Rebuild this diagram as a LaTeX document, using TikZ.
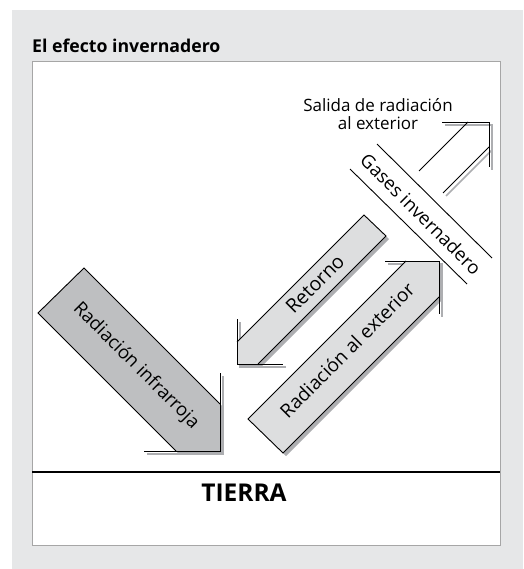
\documentclass[tikz,border=0pt]{standalone}
\usepackage{fontspec}
\setmainfont{Open Sans}
\definecolor{panel}{HTML}{E6E7E8}
\definecolor{darkband}{HTML}{BEBFC1}
\definecolor{lightband}{HTML}{DDDEDF}
\definecolor{shadowgray}{HTML}{ADAEB1}
\tikzset{
  outline/.style={line width=0.9pt},
  shadowline/.style={shadowgray, line width=1.6pt},
  lbl/.style={font=\fontsize{18.5}{22}\selectfont},
}

\begin{document}
\begin{tikzpicture}[x=1pt,y=-1pt]
\useasboundingbox (0,0) rectangle (523,569);
\fill[panel] (12,10) rectangle (523,569);
\filldraw[fill=white,draw=gray!70,line width=0.6pt] (32,61) rectangle (500,545);
\node[anchor=base west,inner sep=0pt,font=\fontsize{17.7}{21}\selectfont\bfseries] (title) at (32,53) {El efecto invernadero};

% shadows
\begin{scope}[shift={(3,3)}]
\fill[shadowgray] (38,313) -- (84,268) -- (220,404) -- (220,451) -- (176,451) -- cycle;
\draw[shadowline] (220,373) -- (220,451) -- (144,451);
\fill[shadowgray] (364,215) -- (386,236) -- (258,364) -- (237,364) -- (237,342) -- cycle;
\draw[shadowline] (237,319) -- (237,364) -- (283,364);
\fill[shadowgray] (248,419) -- (283,453) -- (439,297) -- (439,261) -- (406,261) -- cycle;
\draw[shadowline] (385,261) -- (439,261) -- (439,314);
\draw[shadowline] (443,193) -- (489,147);
\draw[shadowline] (442,122) -- (489,122) -- (489,167);
\end{scope}

% radiacion infrarroja
\fill[darkband] (38,313) -- (84,268) -- (220,404) -- (220,451) -- (176,451) -- cycle;
\draw[outline] (176,451) -- (38,313) -- (84,268) -- (220,404);
\draw[outline] (220,373) -- (220,451) -- (144,451);
% retorno
\fill[lightband] (364,215) -- (386,236) -- (258,364) -- (237,364) -- (237,342) -- cycle;
\draw[outline] (258,364) -- (386,236) -- (364,215) -- (237,342);
\draw[outline] (237,319) -- (237,364) -- (283,364);
% radiacion al exterior
\fill[lightband] (248,419) -- (283,453) -- (439,297) -- (439,261) -- (406,261) -- cycle;
\draw[outline] (406,261) -- (248,419) -- (283,453) -- (439,297);
\draw[outline] (385,261) -- (439,261) -- (439,314);
% salida
\draw[outline] (419,171) -- (468,122);
\draw[outline] (443,193) -- (489,147);
\draw[outline] (442,122) -- (489,122) -- (489,167);

% gases
\draw[outline] (377,144) -- (492,258);
\draw[outline] (350,169) -- (467,284);

\node[lbl,rotate=-45] (infra) at (136,366) {Radiación infrarroja};
\node[lbl,rotate=45,font=\fontsize{19.5}{22}\selectfont] (retorno) at (315,284) {Retorno};
\node[lbl,rotate=45,font=\fontsize{19}{22}\selectfont] (exterior) at (347,350) {Radiación al exterior};
\node[lbl,rotate=-45] (gases) at (421,214) {Gases invernadero};
\node[align=center,font=\fontsize{17}{18}\selectfont] (salida) at (378,114) {Salida de radiación\\al exterior};

\draw[line width=2.6pt] (32,472) -- (500,472);
\node[font=\fontsize{24.5}{28}\selectfont\bfseries] (tierra) at (244,493) {TIERRA};
\end{tikzpicture}
\end{document}
